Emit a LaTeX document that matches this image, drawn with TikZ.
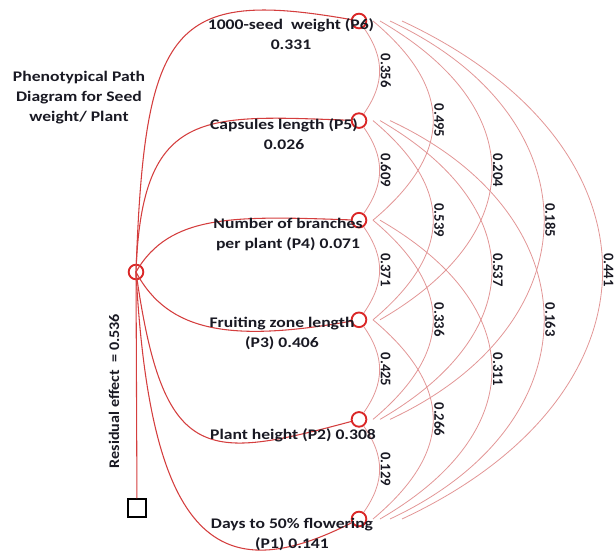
\documentclass[tikz,border=0pt]{standalone}
\usepackage{fontspec}
\setmainfont{Carlito}[FakeStretch=1.2]
\newfontfamily\valfont{Carlito}
\newfontfamily\resfont{Carlito}[FakeStretch=1.1]
\usetikzlibrary{positioning}
\definecolor{hubred}{RGB}{212,62,62}
\definecolor{ringred}{RGB}{218,38,38}
\definecolor{arcpink}{RGB}{226,150,150}
\definecolor{ink}{RGB}{25,25,35}

\begin{document}
\begin{tikzpicture}[x=0.75pt,y=0.75pt,node distance=74.7pt,on grid,
	ring/.style={circle,draw=ringred,line width=1.4pt,inner sep=0pt,minimum size=11pt},
	box/.style={draw,line width=1.4pt,fill=white,inner sep=0pt,minimum size=13pt},
	hubline/.style={draw=hubred,line width=0.8pt},
	corr/.style={draw=arcpink,line width=0.6pt},
	trait/.style={font=\bfseries\fontsize{11}{15}\selectfont,text=ink,align=center,inner sep=0pt},
	resid/.style={font=\resfont\bfseries\fontsize{11}{13}\selectfont,text=ink,rotate=90,inner sep=0pt},
	val/.style={font=\valfont\bfseries\fontsize{11}{13}\selectfont,text=ink,rotate=-90,anchor=south,inner sep=0.5pt},
	gap1/.style={out=-55,in=55,looseness=1.1},
	gap2/.style={out=-40,in=40,looseness=1.35},
	gap3/.style={out=-30,in=30,looseness=1.48},
	gap4/.style={out=-25,in=25,looseness=1.46},
	gap5/.style={out=-25,in=25,looseness=1.52}]

	\useasboundingbox (0,0) rectangle (614,556);

	\node[ring] (ctr) at (136,284) {};
	\node[box] (sq) at (137,48) {};

	\node[ring] (p6) at (359,535) {};
	\node[ring] (p5) [below=of p6] {};
	\node[ring] (p4) [below=of p5] {};
	\node[ring] (p3) [below=of p4] {};
	\node[ring] (p2) [below=of p3] {};
	\node[ring] (p1) [below=of p2] {};

	\draw[corr,gap1] (p6) to node[val] {0.356} (p5);
	\draw[corr,gap1] (p5) to node[val] {0.609} (p4);
	\draw[corr,gap1] (p4) to node[val] {0.371} (p3);
	\draw[corr,gap1] (p3) to node[val] {0.425} (p2);
	\draw[corr,gap1] (p2) to node[val] {0.129} (p1);

	\draw[corr,gap2] ([xshift=10.5pt]p6.center) to node[val] {0.495} ([xshift=10.5pt]p4.center);
	\draw[corr,gap2] ([xshift=10.5pt]p5.center) to node[val] {0.539} ([xshift=10.5pt]p3.center);
	\draw[corr,gap2] ([xshift=10.5pt]p4.center) to node[val] {0.336} ([xshift=10.5pt]p2.center);
	\draw[corr,gap2] ([xshift=10.5pt]p3.center) to node[val] {0.266} ([xshift=10.5pt]p1.center);

	\draw[corr,gap3] ([xshift=15.75pt]p6.center) to node[val] {0.204} ([xshift=15.75pt]p3.center);
	\draw[corr,gap3] ([xshift=15.75pt]p5.center) to node[val] {0.537} ([xshift=15.75pt]p2.center);
	\draw[corr,gap3] ([xshift=15.75pt]p4.center) to node[val] {0.311} ([xshift=15.75pt]p1.center);

	\draw[corr,gap4] ([xshift=23.25pt]p6.center) to node[val] {0.185} ([xshift=23.25pt]p2.center);
	\draw[corr,gap4] ([xshift=23.25pt]p5.center) to node[val] {0.163} ([xshift=23.25pt]p1.center);

	\draw[corr,gap5] ([xshift=32.25pt]p6.center) to node[val] {0.441} ([xshift=32.25pt]p1.center);

	\path[hubline]
		(ctr.center)	edge [out=88,in=170,out looseness=1.9,in looseness=1.4] (p6)
						edge [out=88,in=178,out looseness=1.61,in looseness=1.42] (p5)
						edge [out=60,in=178,out looseness=0.78,in looseness=1.34] (p4)
						edge [out=-62,in=190,out looseness=0.8,in looseness=1.4] (p3)
						edge [out=-82,in=195,out looseness=1.9,in looseness=1.47] (p2)
						edge [out=-87,in=207,out looseness=2.1,in looseness=1.14] (p1)
						edge (sq);

	\node[trait] (t6) at (291,522) {1000-seed~ weight (P6)\\0.331};
	\node[trait] (t5) at (284,422) {Capsules length (P5)\\0.026};
	\node[trait] (t4) at (288,321) {Number of branches\\per plant (P4) 0.071};
	\node[trait] (t3) at (282,223) {Fruiting zone length\\(P3) 0.406};
	\node[trait] (t2) at (293,121) {Plant height (P2) 0.308};
	\node[trait] (t1) at (292,22) {Days to 50\% flowering\\(P1) 0.141};

	\node[trait] (title) at (79,458) {Phenotypical Path\\Diagram for Seed\\weight/ Plant};
	\node[resid] (res) at (114,165) {Residual effect~ = 0.536};
\end{tikzpicture}
\end{document}
